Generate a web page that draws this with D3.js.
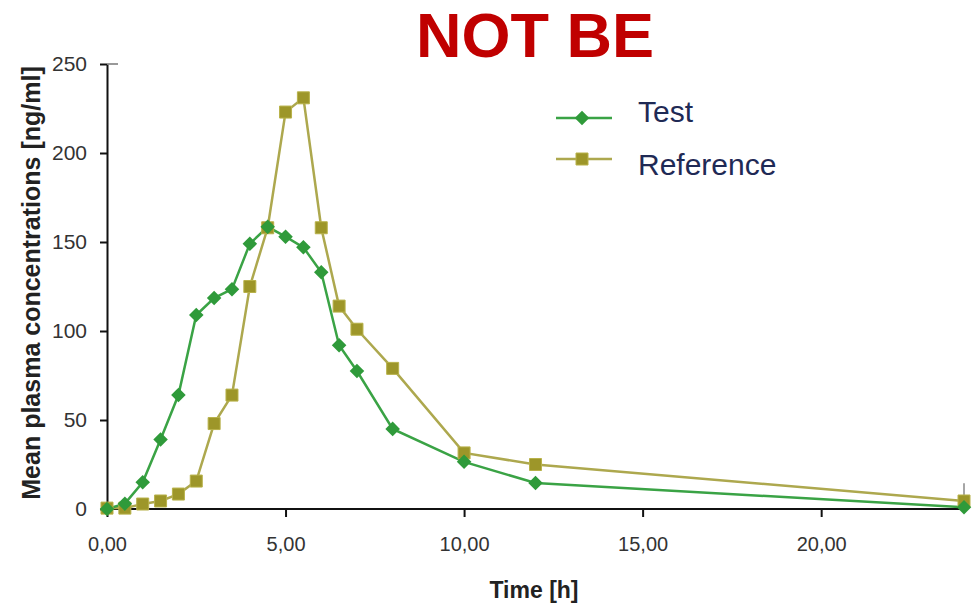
<!DOCTYPE html>
<html>
<head>
<meta charset="utf-8">
<script src="https://cdn.jsdelivr.net/npm/d3@7"></script>
<style>
  html, body { margin: 0; padding: 0; background: #fff; }
  svg { display: block; font-family: "Liberation Sans", Arial, sans-serif; }
</style>
</head>
<body>
<svg id="chart" width="975" height="604"></svg>
<script>
// ---- data ----
const times = [0, 0.5, 1, 1.5, 2, 2.5, 3, 3.5, 4, 4.5, 5, 5.5, 6, 6.5, 7, 8, 10, 12, 24];
const testValues = [0, 3, 15, 39, 64, 109, 118.5, 123.5, 149, 158.5, 153, 147, 133, 92, 77.5, 45, 26.5, 14.6, 1];
const referenceValues = [0.5, 0.5, 2.8, 4.5, 8.4, 15.7, 48, 64, 125, 158, 223, 231, 158, 114, 101, 79, 31.5, 25, 4.5];
const referenceLastError = 10;
const xTicks = [0, 5, 10, 15, 20];
const yTicks = [0, 50, 100, 150, 200, 250];
const seriesNames = ["Test", "Reference"];
const titleText = "NOT BE";
const xLabel = "Time [h]";
const yLabel = "Mean plasma concentrations [ng/ml]";

// ---- layout ----
const svg = d3.select("#chart");
const x = d3.scaleLinear().domain([0, 24]).range([107, 964]);
const y = d3.scaleLinear().domain([0, 250]).range([509, 64]);

const testColor = "#3aa345", testMarker = "#2f9a3a";
const refLine = "#ada84e", refMarker = "#9d9629";
const axisColor = "#111";
const fmt = d => d3.format(".2f")(d).replace(".", ",");

// title
svg.append("text").attr("x", 535).attr("y", 57).attr("text-anchor", "middle")
  .attr("font-size", 63).attr("font-weight", "bold").attr("fill", "#c00000").text(titleText);

// axes
const xAxis = svg.append("g").attr("transform", `translate(0,${y(0)})`)
  .call(d3.axisBottom(x).tickValues(xTicks).tickFormat(fmt).tickSize(8).tickSizeOuter(0).tickPadding(20));
xAxis.select(".domain").attr("stroke", axisColor).attr("stroke-width", 2).attr("d", `M${x(0)},0H${x(24) + 1}`);
xAxis.selectAll(".tick line").attr("stroke", axisColor).attr("stroke-width", 2);
xAxis.selectAll(".tick text").attr("font-size", 20).attr("fill", "#333").attr("font-family", "'Liberation Sans', Arial, sans-serif");

const yAxis = svg.append("g").attr("transform", `translate(${x(0)},0)`)
  .call(d3.axisLeft(y).tickValues(yTicks).tickSize(7).tickSizeOuter(0).tickPadding(13));
yAxis.select(".domain").attr("stroke", axisColor).attr("stroke-width", 2);
yAxis.selectAll(".tick line").attr("stroke", axisColor).attr("stroke-width", 2);
yAxis.selectAll(".tick text").attr("font-size", 21).attr("fill", "#333").attr("font-family", "'Liberation Sans', Arial, sans-serif");
// small cap at top of y axis
svg.append("line").attr("x1", x(0)).attr("x2", x(0) + 11).attr("y1", y(250)).attr("y2", y(250))
  .attr("stroke", "#777").attr("stroke-width", 1.5);

// axis labels
svg.append("text").attr("x", 534).attr("y", 598).attr("text-anchor", "middle")
  .attr("font-size", 23).attr("font-weight", "bold").attr("fill", "#222").text(xLabel);
svg.append("text").attr("transform", `translate(40,${283}) rotate(-90)`).attr("text-anchor", "middle")
  .attr("font-size", 25).attr("font-weight", "bold").attr("fill", "#222").text(yLabel);

// error bar on last reference point
svg.append("line").attr("x1", x(24)).attr("x2", x(24))
  .attr("y1", y(referenceValues[referenceValues.length - 1])).attr("y2", y(referenceValues[referenceValues.length - 1] + referenceLastError))
  .attr("stroke", "#888").attr("stroke-width", 1.5);

const line = d3.line().x((d, i) => x(times[i])).y(d => y(d));

// series lines
svg.append("path").datum(referenceValues).attr("d", line).attr("fill", "none")
  .attr("stroke", refLine).attr("stroke-width", 2.5);
svg.append("path").datum(testValues).attr("d", line).attr("fill", "none")
  .attr("stroke", testColor).attr("stroke-width", 2.5);

const sq = d3.symbol().type(d3.symbolSquare).size(144);
const dm = d3.symbol().type(d3.symbolDiamond2).size(135);

svg.append("g").selectAll("path").data(referenceValues).join("path")
  .attr("d", sq).attr("transform", (d, i) => `translate(${x(times[i])},${y(d)})`)
  .attr("fill", refMarker).attr("stroke", "#b8b24a").attr("stroke-width", 1);
svg.append("g").selectAll("path").data(testValues).join("path")
  .attr("d", dm).attr("transform", (d, i) => `translate(${x(times[i])},${y(d)})`)
  .attr("fill", testMarker);

// legend
const legend = [
  { name: seriesNames[0], y: 118, ty: 122, color: testColor, marker: dm, fill: testMarker },
  { name: seriesNames[1], y: 159, ty: 175, color: refLine, marker: sq, fill: refMarker }
];
const lg = svg.append("g");
legend.forEach(l => {
  lg.append("line").attr("x1", 556).attr("x2", 612).attr("y1", l.y).attr("y2", l.y)
    .attr("stroke", l.color).attr("stroke-width", 2.5);
  lg.append("path").attr("d", l.marker).attr("transform", `translate(582,${l.y})`)
    .attr("fill", l.fill).attr("stroke", l === legend[1] ? "#b8b24a" : "none");
  lg.append("text").attr("x", 638).attr("y", l.ty).attr("font-size", 30)
    .attr("fill", "#1f2a55").text(l.name);
});
</script>
</body>
</html>
